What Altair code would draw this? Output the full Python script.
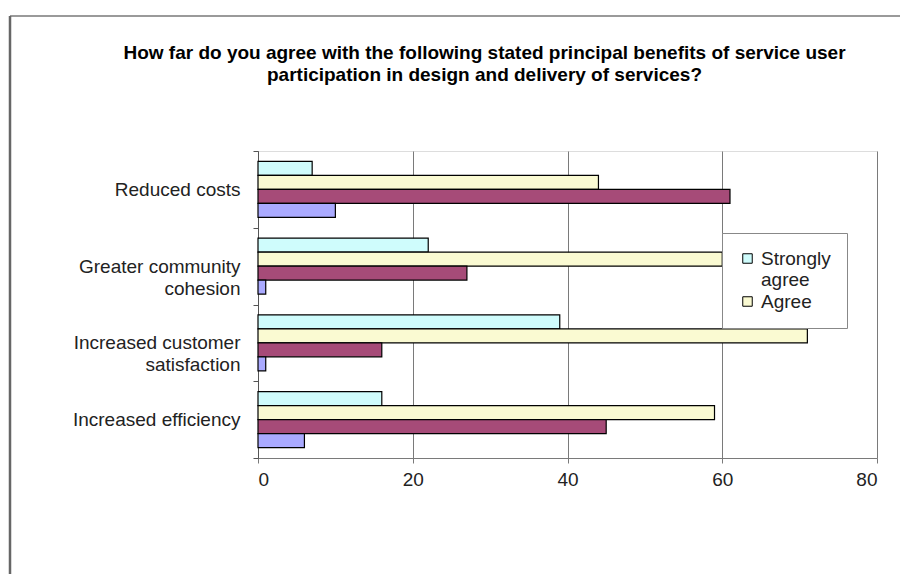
import altair as alt
import pandas as pd

categories = ["Reduced costs", "Greater community cohesion",
              "Increased customer satisfaction", "Increased efficiency"]
series = ["Strongly agree", "Agree", "Disagree", "Strongly disagree"]
strongly_agree = [7, 22, 39, 16]
agree = [44, 60, 71, 59]
disagree = [61, 27, 16, 45]
strongly_disagree = [10, 1, 1, 6]
colors = ["#cffcfc", "#fafad2", "#a64b78", "#aaaaff"]
x_ticks = [0, 20, 40, 60, 80]
title_lines = ["How far do you agree with the following stated principal benefits of service user",
               "participation in design and delivery of services?"]

rows = []
for vals, s in zip([strongly_agree, agree, disagree, strongly_disagree], series):
    for c, v in zip(categories, vals):
        rows.append({"category": c, "series": s, "value": v})
df = pd.DataFrame(rows)

NB = "\u00a0"
y_label_expr = (
    "datum.value == 'Greater community cohesion' ? ['Greater community', 'cohesion" + NB * 8 + "'] : "
    "datum.value == 'Increased customer satisfaction' ? ['Increased customer', 'satisfaction" + NB * 7 + "'] : "
    "datum.value"
)

FONT = "Liberation Sans"

bars = alt.Chart(df).mark_bar(stroke="black", strokeWidth=1.2).encode(
    x=alt.X("value:Q",
            scale=alt.Scale(domain=[0, 80], nice=False),
            axis=alt.Axis(values=x_ticks, title=None, grid=True, gridColor="#7a7a7a",
                          gridWidth=1, domainColor="#7a7a7a", tickColor="#7a7a7a",
                          tickSize=5, labelFontSize=19, labelFont=FONT, labelColor="#222",
                          labelPadding=7)),
    y=alt.Y("category:N", sort=categories,
            scale=alt.Scale(paddingInner=0, paddingOuter=0),
            axis=alt.Axis(title=None, tickBand="extent", domainColor="#555", tickColor="#555",
                          tickSize=5, labelFontSize=19, labelFont=FONT, labelColor="#222",
                          labelPadding=13, labelLineHeight=22, labelExpr=y_label_expr,
                          labelLimit=300)),
    yOffset=alt.YOffset("series:N", sort=series,
                        scale=alt.Scale(paddingInner=0, paddingOuter=0.75)),
    color=alt.Color("series:N", sort=series,
                    scale=alt.Scale(domain=series, range=colors),
                    legend=alt.Legend(values=["Strongly agree", "Agree"], title=None,
                                      orient="none", legendX=464, legendY=82,
                                      fillColor="white", strokeColor="#888", padding=16,
                                      symbolType="square", symbolSize=90,
                                      symbolStrokeColor="black", symbolStrokeWidth=1,
                                      labelFontSize=19, labelFont=FONT, labelColor="#222",
                                      labelOffset=4,
                                      labelExpr="datum.value == 'Strongly agree' ? ['Strongly', 'agree'] : datum.value")),
)

frame_top = alt.Chart(pd.DataFrame({"k": [0]})).mark_rule(color="#9a9a9a", strokeWidth=2).encode(
    x=alt.value(-248), x2=alt.value(700), y=alt.value(-135), y2=alt.value(-135))
frame_left = alt.Chart(pd.DataFrame({"k": [0]})).mark_rule(color="#666666", strokeWidth=2.5).encode(
    x=alt.value(-248), x2=alt.value(-248), y=alt.value(-135), y2=alt.value(500))

chart = alt.layer(bars, frame_top, frame_left).properties(
    width=619, height=307,
    title=alt.TitleParams(title_lines, fontSize=19, font=FONT, fontWeight="bold",
                          color="black", anchor="middle", dx=-83, offset=-70, lineHeight=22),
    autosize=alt.AutoSizeParams(type="none"),
    padding={"left": 250, "top": 143, "right": 23, "bottom": 116},
).configure_view(fill="#eeeeee", stroke=None).configure(background="white")

chart.save("out.html", embed_options={"renderer": "svg", "actions": False})
